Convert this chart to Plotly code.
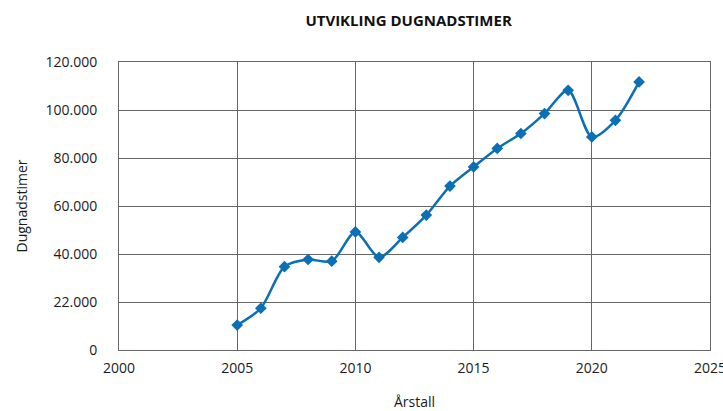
import plotly.graph_objects as go

years = [2005, 2006, 2007, 2008, 2009, 2010, 2011, 2012, 2013, 2014, 2015, 2016, 2017, 2018, 2019, 2020, 2021, 2022]
hours = [10400, 17400, 34700, 37700, 37000, 49200, 38600, 46900, 56200, 68300, 76300, 84000, 90200, 98500, 108200, 88800, 95700, 111700]

y_tickvals = [0, 20000, 40000, 60000, 80000, 100000, 120000]
y_ticktext = ["0", "22.000", "40.000", "60.000", "80.000", "100.000", "120.000"]
x_tickvals = [2000, 2005, 2010, 2015, 2020, 2025]

blue = "#0a6fb4"
grid = "#666666"
font = "'Open Sans', 'Noto Sans', sans-serif"

fig = go.Figure()
fig.add_trace(go.Scatter(
    x=years, y=hours, mode="lines+markers",
    line=dict(color=blue, width=2.5, shape="spline", smoothing=0.8),
    marker=dict(symbol="diamond", size=9, color=blue),
    showlegend=False,
))

fig.update_layout(
    width=723, height=411,
    margin=dict(l=119, r=13, t=62, b=61),
    paper_bgcolor="white", plot_bgcolor="white",
    font=dict(family=font, size=14, color="#1a1a1a"),
    title=dict(text="<b>UTVIKLING DUGNADSTIMER</b>", xref="paper", x=0.49, xanchor="center",
               y=0.95, yanchor="middle", font=dict(size=15, family=font, color="#111")),
    xaxis=dict(range=[2000, 2025], tickvals=x_tickvals, showgrid=True, gridcolor=grid,
               gridwidth=1, showline=True, linecolor=grid, linewidth=1, mirror=True,
               zeroline=False, ticks="", automargin=False, ticklabeloverflow="allow",
               ticklabelstandoff=5,
               title=dict(text="Årstall", font=dict(size=14), standoff=24)),
    yaxis=dict(range=[0, 120000], tickvals=y_tickvals, ticktext=y_ticktext, showgrid=True,
               gridcolor=grid, gridwidth=1, showline=True, linecolor=grid, linewidth=1,
               mirror=True, zeroline=False, ticks="", automargin=False, ticklabelstandoff=18,
               title=dict(text="Dugnadstimer", font=dict(size=14), standoff=14)),
)

fig.write_html("out.html", config={"displayModeBar": False},
               post_script="document.body.style.margin='0px';")
